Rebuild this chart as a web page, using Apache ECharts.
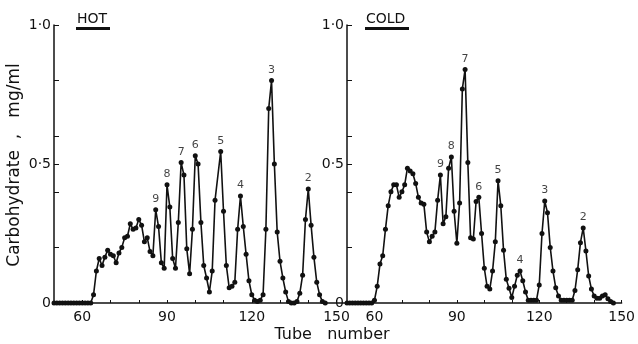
<!DOCTYPE html>
<html>
<head>
<meta charset="utf-8">
<script src="https://cdn.jsdelivr.net/npm/echarts@6/dist/echarts.min.js"></script>
<style>
  html, body { margin: 0; padding: 0; background: #fff; }
  #chart { width: 638px; height: 344px; }
</style>
</head>
<body>
<div id="chart"></div>
<script>
// HOT extract: [tube, carbohydrate mg/ml]
const hotData = [
  [50, 0], [51, 0], [52, 0], [53, 0], [54, 0], [55, 0], [56, 0], [57, 0], [58, 0], [59, 0],
  [60, 0], [61, 0], [62, 0], [63, 0], [64, 0.03], [65, 0.115], [66, 0.16], [67, 0.135],
  [68, 0.165], [69, 0.19], [70, 0.175], [71, 0.17], [72, 0.145], [73, 0.18], [74, 0.2],
  [75, 0.235], [76, 0.24], [77, 0.285], [78, 0.265], [79, 0.27], [80, 0.3], [81, 0.28],
  [82, 0.22], [83, 0.235], [84, 0.185], [85, 0.17], [86, 0.335], [87, 0.275], [88, 0.145],
  [89, 0.125], [90, 0.425], [91, 0.345], [92, 0.16], [93, 0.125], [94, 0.29], [95, 0.505],
  [96, 0.46], [97, 0.195], [98, 0.105], [99, 0.265], [100, 0.53], [101, 0.5], [102, 0.29],
  [103, 0.135], [104, 0.09], [105, 0.04], [106, 0.115], [107, 0.37], [109, 0.545],
  [110, 0.33], [111, 0.135], [112, 0.055], [113, 0.06], [114, 0.075], [115, 0.265],
  [116, 0.385], [117, 0.275], [118, 0.175], [119, 0.08], [120, 0.03], [121, 0.01],
  [122, 0.005], [123, 0.01], [124, 0.03], [125, 0.265], [126, 0.7], [127, 0.8], [128, 0.5],
  [129, 0.255], [130, 0.15], [131, 0.09], [132, 0.04], [133, 0.005], [134, 0], [135, 0],
  [136, 0.005], [137, 0.035], [138, 0.1], [139, 0.3], [140, 0.41], [141, 0.28], [142, 0.165],
  [143, 0.075], [144, 0.03], [145, 0.005], [146, 0]
];

// COLD extract
const coldData = [
  [50, 0], [51, 0], [52, 0], [53, 0], [54, 0], [55, 0], [56, 0], [57, 0], [58, 0], [59, 0],
  [60, 0.01], [61, 0.06], [62, 0.14], [63, 0.17], [64, 0.265], [65, 0.35], [66, 0.4],
  [67, 0.425], [68, 0.425], [69, 0.38], [70, 0.4], [71, 0.425], [72, 0.485], [73, 0.475],
  [74, 0.465], [75, 0.43], [76, 0.38], [77, 0.36], [78, 0.355], [79, 0.255], [80, 0.22],
  [81, 0.24], [82, 0.255], [83, 0.37], [84, 0.46], [85, 0.285], [86, 0.31], [87, 0.485],
  [88, 0.525], [89, 0.33], [90, 0.215], [91, 0.36], [92, 0.77], [93, 0.84], [94, 0.505],
  [95, 0.235], [96, 0.23], [97, 0.365], [98, 0.38], [99, 0.25], [100, 0.125], [101, 0.06],
  [102, 0.05], [103, 0.115], [104, 0.22], [105, 0.44], [106, 0.35], [107, 0.19], [108, 0.085],
  [109, 0.053], [110, 0.02], [111, 0.06], [112, 0.1], [113, 0.115], [114, 0.08], [115, 0.04],
  [116, 0.01], [117, 0.01], [118, 0.01], [119, 0.01], [120, 0.065], [121, 0.25], [122, 0.367],
  [123, 0.325], [124, 0.2], [125, 0.115], [126, 0.055], [127, 0.025], [128, 0.01], [129, 0.01],
  [130, 0.01], [131, 0.01], [132, 0.01], [133, 0.045], [134, 0.12], [135, 0.217], [136, 0.27],
  [137, 0.187], [138, 0.097], [139, 0.05], [140, 0.025], [141, 0.017], [142, 0.017],
  [143, 0.025], [144, 0.03], [145, 0.015], [146, 0.005], [147, 0]
];

// peak numbers: [tube, value, label]
const hotPeaks = [
  [86, 0.335, '9'], [90, 0.425, '8'], [95, 0.505, '7'], [100, 0.53, '6'],
  [109, 0.545, '5'], [116, 0.385, '4'], [127, 0.8, '3'], [140, 0.41, '2']
];
const coldPeaks = [
  [84, 0.46, '9'], [88, 0.525, '8'], [93, 0.84, '7'], [98, 0.38, '6'],
  [105, 0.44, '5'], [113, 0.115, '4'], [122, 0.367, '3'], [136, 0.27, '2']
];

const xTickValues = [60, 70, 80, 90, 100, 110, 120, 130, 140, 150];
const xLabelValues = [60, 90, 120, 150];
const yTickValues = [0, 0.2, 0.4, 0.5, 0.6, 0.8, 1];
const yLabelValues = [0, 0.5, 1];
const yLabelText = { 0: '0', 0.5: '0·5', 1: '1·0' };

const FONT = 'DejaVu Sans';
const INK = '#111';

const chart = echarts.init(document.getElementById('chart'));

function xAxis(gridIndex, max) {
  return {
    type: 'value', gridIndex: gridIndex, min: 50, max: max,
    axisLine: { lineStyle: { color: INK, width: 1.5 } },
    axisTick: { inside: true, length: 3, customValues: xTickValues, lineStyle: { color: INK } },
    axisLabel: { customValues: xLabelValues, color: INK, fontFamily: FONT, fontSize: 14, margin: 7 },
    splitLine: { show: false }
  };
}
function yAxis(gridIndex) {
  return {
    type: 'value', gridIndex: gridIndex, min: 0, max: 1,
    axisLine: { lineStyle: { color: INK, width: 1.5 } },
    axisTick: { inside: true, length: 5, customValues: yTickValues, lineStyle: { color: INK } },
    axisLabel: {
      customValues: yLabelValues, color: INK, fontFamily: FONT, fontSize: 14, margin: 3,
      formatter: v => yLabelText[v]
    },
    splitLine: { show: false }
  };
}
function curve(data, idx) {
  return {
    type: 'line', xAxisIndex: idx, yAxisIndex: idx, data: data,
    symbol: 'circle', symbolSize: 5, showSymbol: true,
    lineStyle: { color: INK, width: 1.6 }, itemStyle: { color: INK },
    animation: false
  };
}
function peakLabels(data, idx) {
  return {
    type: 'scatter', xAxisIndex: idx, yAxisIndex: idx, data: data,
    symbolSize: 0, silent: true,
    label: {
      show: true, position: 'top', distance: 5, color: INK,
      fontFamily: FONT, fontSize: 11, formatter: p => p.value[2]
    },
    animation: false
  };
}

chart.setOption({
  animation: false,
  grid: [
    { left: 54, top: 25, width: 291, height: 278 },
    { left: 347, top: 25, width: 281, height: 278 }
  ],
  xAxis: [xAxis(0, 153), xAxis(1, 150)],
  yAxis: [yAxis(0), yAxis(1)],
  series: [
    curve(hotData, 0), curve(coldData, 1),
    peakLabels(hotPeaks, 0), peakLabels(coldPeaks, 1)
  ],
  graphic: [
    { type: 'text', left: 77, top: 12, style: { text: 'HOT', fontFamily: FONT, fontSize: 14, fill: INK } },
    { type: 'rect', shape: { x: 76, y: 27, width: 34, height: 3 }, style: { fill: INK } },
    { type: 'text', left: 366, top: 12, style: { text: 'COLD', fontFamily: FONT, fontSize: 14, fill: INK } },
    { type: 'rect', shape: { x: 365, y: 27, width: 44, height: 3 }, style: { fill: INK } },
    {
      type: 'text', x: 15, y: 165, rotation: Math.PI / 2,
      style: { text: 'Carbohydrate  ,   mg/ml', fontFamily: FONT, fontSize: 17, fill: INK, align: 'center', verticalAlign: 'middle' }
    },
    {
      type: 'text', x: 332, y: 335,
      style: { text: 'Tube   number', fontFamily: FONT, fontSize: 16, fill: INK, align: 'center', verticalAlign: 'middle' }
    }
  ]
});
</script>
</body>
</html>
